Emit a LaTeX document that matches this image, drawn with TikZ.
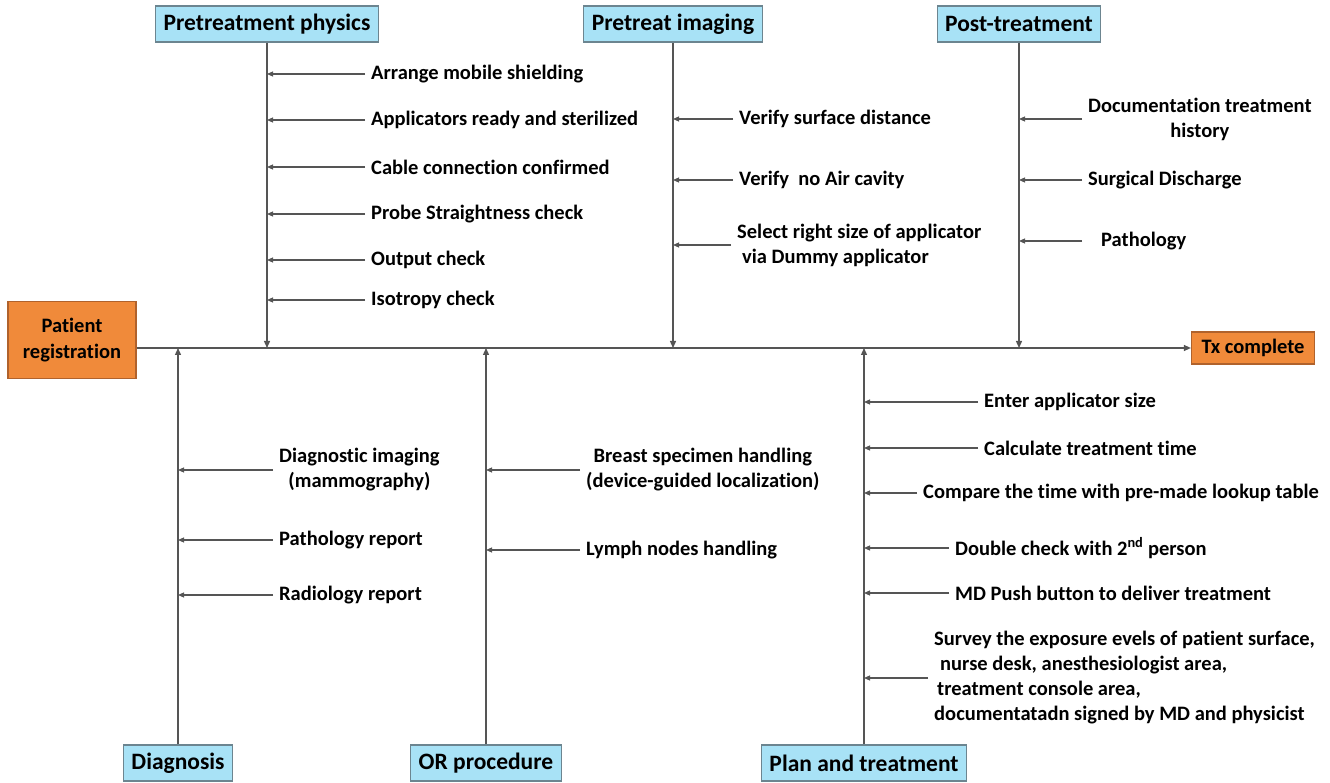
\documentclass[tikz,border=0pt]{standalone}
\usepackage{fontspec}
\setmainfont{Carlito}[Ligatures=NoCommon]
\usetikzlibrary{arrows.meta,positioning}
\definecolor{cBox}{HTML}{A8E2F6}
\definecolor{cBoxE}{HTML}{6C8590}
\definecolor{cOr}{HTML}{F08A3A}
\definecolor{cOrE}{HTML}{B0622C}
\definecolor{cLn}{HTML}{555555}
\tikzset{
  catbox/.style={draw=cBoxE, fill=cBox, line width=1.2pt, inner xsep=8pt, minimum height=36pt,
    font=\fontsize{23.5}{26}\selectfont\bfseries},
  termbox/.style={draw=cOrE, fill=cOr, line width=1.2pt, align=center,
    font=\fontsize{20.5}{26}\selectfont\bfseries},
  cause/.style={inner sep=0pt, anchor=west, font=\fontsize{20.5}{25}\selectfont\bfseries},
  bone/.style={draw=cLn, line width=1.3pt, -{Triangle[length=7pt,width=6pt]}},
  rib/.style={draw=cLn, line width=1.1pt, -{Triangle[length=6pt,width=5pt]}},
}

\begin{document}
\begin{tikzpicture}[x=1pt, y=-1pt]
\useasboundingbox (0,0) rectangle (1330,783);
% start, end
\node[termbox, minimum width=128pt, minimum height=77pt] (reg) at (72,340) {Patient\\registration};
\node[termbox, minimum width=123pt, minimum height=32pt] (tx) at (1253,348) {Tx complete};
\draw[bone] (reg.east |- tx) -- (tx.west);

% categories
\node[catbox] (pphys) at (267,24) {Pretreatment physics};
\node[catbox] (pimg) at (673,24) {Pretreat imaging};
\node[catbox] (post) at (1019,24) {Post-treatment};
\node[catbox] (diag) at (178,763) {Diagnosis};
\node[catbox] (orp) at (486,763) {OR procedure};
\node[catbox] (plan) at (864,763) {Plan and treatment};
\foreach \c in {pphys,pimg,post} {\draw[bone] (\c.south) -- (\c |- tx);}
\foreach \c in {diag,orp,plan} {\draw[bone] (\c.north) -- (\c |- tx);}

% causes
\foreach \n/\y/\t in {a/74/Arrange mobile shielding, b/120/Applicators ready and sterilized,
  c/167/Cable connection confirmed, d/214/Probe Straightness check, e/260/Output check,
  f/300/Isotropy check} {
  \node[cause] (pphys\n) at (371,\y) {\t};
  \draw[rib] ([xshift=-6pt]pphys\n.west) -- (pphys\n.west -| pphys);
}
\node[cause] (pimga) at (739,119) {Verify surface distance};
\node[cause] (pimgb) at (739,180) {Verify\ \ no Air cavity};
\node[cause, align=left] (pimgc) at (737,245) {Select right size of applicator\\\hspace*{5pt}via Dummy applicator};
\foreach \n in {a,b,c} {\draw[rib] ([xshift=-6pt]pimg\n.west) -- (pimg\n.west -| pimg);}

\node[cause, align=center] (posta) at (1088,119) {Documentation treatment\\history};
\node[cause] (postb) at (1088,180) {Surgical Discharge};
\node[cause] (postc) at (1101,241) {Pathology};
\draw[rib] ([xshift=-6pt]posta.west) -- (posta.west -| post);
\draw[rib] ([xshift=-6pt]postb.west) -- (postb.west -| post);
\draw[rib] ([xshift=-19pt]postc.west) -- (postc.west -| post);

\node[cause, align=center] (diaga) at (279,470) {Diagnostic imaging\\(mammography)};
\node[cause] (diagb) at (279,540) {Pathology report};
\node[cause] (diagc) at (279,595) {Radiology report};
\foreach \n in {a,b,c} {\draw[rib] ([xshift=-6pt]diag\n.west) -- (diag\n.west -| diag);}

\node[cause, align=center] (orpa) at (586,470) {Breast specimen handling\\(device-guided localization)};
\node[cause] (orpb) at (586,550) {Lymph nodes handling};
\foreach \n in {a,b} {\draw[rib] ([xshift=-6pt]orp\n.west) -- (orp\n.west -| orp);}

\node[cause] (plana) at (984,402) {Enter applicator size};
\node[cause] (planb) at (984,448) {Calculate treatment time};
\node[cause] (planc) at (923,493) {Compare the time with pre-made lookup table};
\node[cause] (pland) at (955,548) {Double check with 2\textsuperscript{nd} person};
\node[cause] (plane) at (955,593) {MD Push button to deliver treatment};
\node[cause, align=left] (planf) at (934,678) {Survey the exposure evels of patient surface,\\
  \hspace*{6pt}nurse desk, anesthesiologist area,\\\hspace*{3pt}treatment console area,\\
  documentatadn signed by MD and physicist};
\foreach \n in {a,b,c,d,e,f} {\draw[rib] ([xshift=-6pt]plan\n.west) -- (plan\n.west -| plan);}
\end{tikzpicture}
\end{document}
